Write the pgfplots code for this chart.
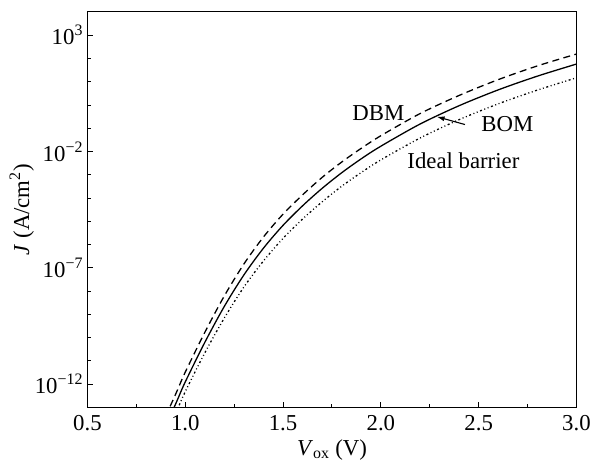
\documentclass[border=0pt]{standalone}
\usepackage{pgfplots}
\pgfplotsset{compat=1.18}
\usetikzlibrary{arrows.meta}
\usepackage{fontspec}
\setmainfont{Liberation Serif}

% log10 of J (A/cm^2)
\pgfplotstableread{
V     bom     dbm     ideal
0.90  -13.80  -13.40  -14.30
0.92  -13.40  -13.00  -13.88
0.94  -13.05  -12.63  -13.50
0.96  -12.67  -12.25  -13.08
1.00  -11.90  -11.48  -12.32
1.10  -10.20   -9.77  -10.65
1.20   -8.65   -8.20   -9.15
1.30   -7.30   -6.83   -7.82
1.40   -6.15   -5.67   -6.70
1.50   -5.17   -4.69   -5.73
1.60   -4.33   -3.86   -4.90
1.70   -3.58   -3.11   -4.16
1.80   -2.91   -2.45   -3.49
1.90   -2.31   -1.86   -2.90
2.00   -1.77   -1.32   -2.36
2.20   -0.82   -0.37   -1.42
2.40   -0.03    0.41   -0.63
2.60    0.65    1.09    0.05
2.80    1.24    1.68    0.64
3.00    1.76    2.19    1.17
}\jdata

\begin{document}
\begin{tikzpicture}
\begin{axis}[
    scale only axis,
    width=492bp, height=398bp,
    xmin=0.5, xmax=3.0,
    ymin=-13, ymax=4,
    axis line style={line width=1.1bp},
    xtick={0.5,1.0,1.5,2.0,2.5,3.0},
    xticklabels={0.5,1.0,1.5,2.0,2.5,3.0},
    minor xtick={0.75,1.25,1.75,2.25,2.75},
    ytick={-12,-7,-2,3},
    yticklabels={10\textsuperscript{−12},10\textsuperscript{−7},10\textsuperscript{−2},10\textsuperscript{3}},
    minor ytick={-13,-11,-10,-9,-8,-6,-5,-4,-3,-1,0,1,2,4},
    xtick pos=bottom, ytick pos=left,
    tick align=inside,
    major tick length=6bp, minor tick length=3.5bp,
    tick style={line width=1bp, black},
    tick label style={font=\fontsize{23}{26}\selectfont},
    xticklabel style={yshift=-4bp},
    yticklabel style={xshift=-1bp},
    xlabel={\textit{V}\textsubscript{ox} (V)},
    ylabel={\textit{J} (A/cm\textsuperscript{2})},
    label style={font=\fontsize{23}{26}\selectfont},
    xlabel style={yshift=-2bp},
    ylabel style={yshift=-6bp},
    clip=true,
]
\addplot[black, line width=1.3bp, smooth] table[x=V, y=bom] {\jdata};
\addplot[black, line width=1.3bp, smooth, dash pattern=on 7bp off 4.5bp] table[x=V, y=dbm] {\jdata};
\addplot[black, line width=1.3bp, smooth, dash pattern=on 2bp off 2.6bp on 1bp off 2.6bp on 1bp off 2.6bp] table[x=V, y=ideal] {\jdata};

\node[font=\fontsize{23}{26}\selectfont] at (axis cs:1.987,-0.33) {DBM};
\node[font=\fontsize{23}{26}\selectfont] at (axis cs:2.647,-0.82) {BOM};
\node[font=\fontsize{23}{26}\selectfont] at (axis cs:2.422,-2.40) {Ideal barrier};
\draw[-{Latex[length=8bp,width=5bp]}, line width=1.1bp] (axis cs:2.43,-0.84) -- (axis cs:2.285,-0.50);
\end{axis}
\path ([shift={(-88bp,-60bp)}]current axis.south west) rectangle ([shift={(14bp,12bp)}]current axis.north east);
\end{tikzpicture}
\end{document}
